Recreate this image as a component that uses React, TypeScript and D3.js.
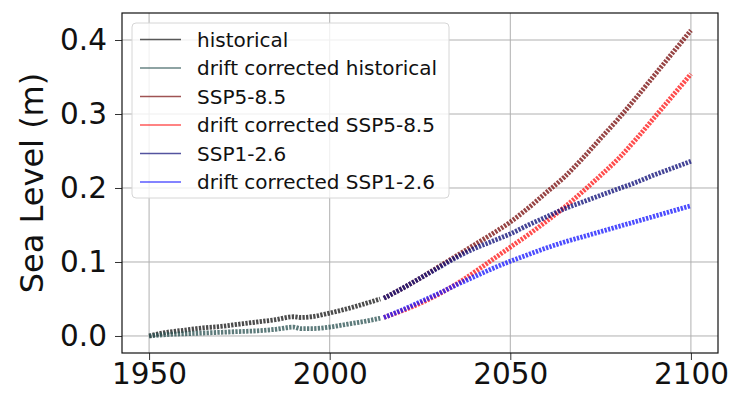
import React, { useEffect, useRef } from 'react';
import * as d3 from 'd3';

// historical period
const histYears = [1950, 1955, 1960, 1965, 1970, 1975, 1980, 1985, 1990, 1992, 1995, 2000, 2005, 2010, 2014];
const historical = [0.0, 0.005, 0.008, 0.011, 0.013, 0.016, 0.019, 0.022, 0.026, 0.025, 0.026, 0.031, 0.037, 0.044, 0.05];
const driftHistorical = [0.0, 0.002, 0.003, 0.004, 0.005, 0.006, 0.007, 0.009, 0.012, 0.01, 0.01, 0.012, 0.016, 0.02, 0.024];

// scenarios
const futureYears = [2015, 2020, 2025, 2030, 2035, 2040, 2045, 2050, 2055, 2060, 2065, 2070, 2075, 2080, 2085, 2090, 2095, 2100];
const ssp585 = [0.051, 0.064, 0.078, 0.093, 0.108, 0.123, 0.138, 0.154, 0.173, 0.194, 0.215, 0.24, 0.267, 0.294, 0.323, 0.353, 0.383, 0.413];
const driftSsp585 = [0.025, 0.034, 0.044, 0.056, 0.07, 0.086, 0.103, 0.12, 0.137, 0.155, 0.174, 0.195, 0.217, 0.24, 0.267, 0.296, 0.325, 0.354];
const ssp126 = [0.051, 0.064, 0.078, 0.092, 0.106, 0.118, 0.128, 0.138, 0.15, 0.161, 0.172, 0.181, 0.19, 0.199, 0.208, 0.218, 0.227, 0.236];
const driftSsp126 = [0.025, 0.035, 0.046, 0.057, 0.069, 0.08, 0.091, 0.101, 0.11, 0.119, 0.127, 0.134, 0.141, 0.148, 0.155, 0.162, 0.169, 0.176];

const seriesNames = ['historical', 'drift corrected historical', 'SSP5-8.5', 'drift corrected SSP5-8.5', 'SSP1-2.6', 'drift corrected SSP1-2.6'];
const seriesColors = ['#1a1a1a', '#2f5656', '#7a1010', '#ff1a1a', '#10107a', '#1a1aff'];

const xTicks = [1950, 2000, 2050, 2100];
const yTicks = [0, 0.1, 0.2, 0.3, 0.4];

const App = () => {
    const svgRef = useRef<SVGSVGElement>(null);

    useEffect(() => {
        const svg = d3.select(svgRef.current);
        svg.selectAll('*').remove();

        const width = 732;
        const height = 396;
        const margin = { top: 13, right: 14, bottom: 43, left: 122 };
        const font = 'DejaVu Sans, sans-serif';

        const x = d3.scaleLinear().domain([1942.5, 2107.5]).range([margin.left, width - margin.right]);
        const y = d3.scaleLinear().domain([-0.023, 0.4365]).range([height - margin.bottom, margin.top]);

        svg.append('rect').attr('width', width).attr('height', height).attr('fill', '#fff');

        // grid
        svg.append('g')
            .selectAll('line')
            .data(xTicks)
            .join('line')
            .attr('x1', (d) => x(d)).attr('x2', (d) => x(d))
            .attr('y1', margin.top).attr('y2', height - margin.bottom)
            .attr('stroke', '#b0b0b0').attr('stroke-width', 1);
        svg.append('g')
            .selectAll('line')
            .data(yTicks)
            .join('line')
            .attr('x1', margin.left).attr('x2', width - margin.right)
            .attr('y1', (d) => y(d)).attr('y2', (d) => y(d))
            .attr('stroke', '#b0b0b0').attr('stroke-width', 1);

        // axes
        const xAxis = svg.append('g')
            .attr('transform', `translate(0,${height - margin.bottom})`)
            .call(d3.axisBottom(x).tickValues(xTicks).tickFormat(d3.format('d')).tickSize(7).tickPadding(3));
        const yAxis = svg.append('g')
            .attr('transform', `translate(${margin.left},0)`)
            .call(d3.axisLeft(y).tickValues(yTicks).tickFormat(d3.format('.1f')).tickSize(7).tickPadding(8));
        [xAxis, yAxis].forEach((g) => {
            g.select('.domain').remove();
            g.selectAll('text').attr('font-family', font).attr('font-size', 29.5).attr('fill', '#111');
            g.selectAll('line').attr('stroke', '#333');
        });

        // lines
        const series = [
            { years: histYears, values: historical },
            { years: histYears, values: driftHistorical },
            { years: futureYears, values: ssp585 },
            { years: futureYears, values: driftSsp585 },
            { years: futureYears, values: ssp126 },
            { years: futureYears, values: driftSsp126 },
        ];
        const line = d3.line<[number, number]>()
            .x((d) => x(d[0]))
            .y((d) => y(d[1]))
            .curve(d3.curveMonotoneX);

        series.forEach((s, i) => {
            const pts = s.years.map((yr, j) => [yr, s.values[j]] as [number, number]);
            svg.append('path')
                .attr('d', line(pts))
                .attr('fill', 'none')
                .attr('stroke', seriesColors[i])
                .attr('stroke-opacity', 0.78)
                .attr('stroke-width', 4.8)
                .attr('stroke-dasharray', '2.3 1.3');
        });

        // frame
        svg.append('rect')
            .attr('x', margin.left).attr('y', margin.top)
            .attr('width', width - margin.left - margin.right)
            .attr('height', height - margin.top - margin.bottom)
            .attr('fill', 'none').attr('stroke', '#111').attr('stroke-width', 1.2);

        // legend
        const legend = svg.append('g').attr('transform', 'translate(132,23)');
        legend.append('rect')
            .attr('width', 317).attr('height', 175).attr('rx', 4)
            .attr('fill', '#fff').attr('fill-opacity', 0.8)
            .attr('stroke', '#d6d6d6');
        const rows = legend.selectAll('g.row')
            .data(seriesNames)
            .join('g')
            .attr('transform', (_, i) => `translate(0,${16.5 + i * 28.5})`);
        rows.append('line')
            .attr('x1', 8).attr('x2', 49)
            .attr('stroke', (_, i) => seriesColors[i])
            .attr('stroke-opacity', 0.72)
            .attr('stroke-width', 1.6);
        rows.append('text')
            .attr('x', 65).attr('dy', '0.35em')
            .attr('font-family', font).attr('font-size', 20).attr('fill', '#111')
            .text((d) => d);

        // y label
        svg.append('text')
            .attr('transform', `translate(43,${(margin.top + height - margin.bottom) / 2}) rotate(-90)`)
            .attr('text-anchor', 'middle')
            .attr('font-family', font).attr('font-size', 32).attr('fill', '#111')
            .text('Sea Level (m)');
    }, []);

    return (
        <svg ref={svgRef} width={732} height={396} style={{ position: 'absolute', left: 0, top: 0 }} />
    );
};

export default App;
